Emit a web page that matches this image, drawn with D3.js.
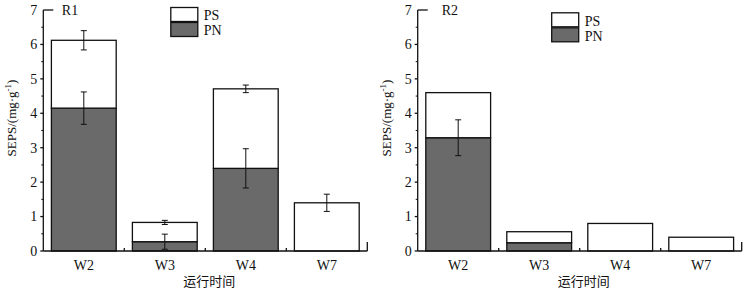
<!DOCTYPE html>
<html>
<head>
<meta charset="utf-8">
<script src="https://cdn.jsdelivr.net/npm/d3@7"></script>
<style>
  body { margin: 0; background: #fff; }
  svg { display: block; }
  text { font-family: "Liberation Serif", "DejaVu Serif", serif; fill: #111; }
  .cjk { font-family: "Noto Sans CJK SC", sans-serif; }
</style>
</head>
<body>
<svg id="chart" width="750" height="289"></svg>
<script>
// stacked bars: PN (grey, bottom) + PS (white, top), two reactors

const categories = ['W2', 'W3', 'W4', 'W7'];
const yTicks = [0, 1, 2, 3, 4, 5, 6, 7];

const r1PN      = [4.15, 0.27, 2.40, 0];
const r1PS      = [1.97, 0.56, 2.31, 1.40];
const r1PNErr   = [0.47, 0.22, 0.57, 0];
const r1TotErr  = [0.28, 0.06, 0.11, 0.25];

const r2PN      = [3.29, 0.24, 0, 0];
const r2PS      = [1.31, 0.32, 0.80, 0.40];
const r2PNErr   = [0.52, 0, 0, 0];
const r2TotErr  = [0, 0, 0, 0];

const GREY = '#6a6a6a';
const svg = d3.select('#chart');

const panels = [
    { name: 'R1', x0: 43.3, pn: r1PN, ps: r1PS, pnErr: r1PNErr, totErr: r1TotErr,
      labelDx: 18.5, legX: 127.5, legY: 7.5 },
    { name: 'R2', x0: 417.7, pn: r2PN, ps: r2PS, pnErr: r2PNErr, totErr: r2TotErr,
      labelDx: 24, legX: 134, legY: 12.8 },
];

const W = 324, TOP = 10, BOT = 251;

panels.forEach(p => {
    const g = svg.append('g').attr('transform', `translate(${p.x0},0)`);

    const x = d3.scaleBand().domain(categories).range([0, W])
        .paddingInner(0.2).paddingOuter(0.1);
    const y = d3.scaleLinear().domain([0, 7]).range([BOT, TOP]);

    const rows = categories.map((c, i) => ({ cat: c, PN: p.pn[i], PS: p.ps[i] }));
    const stack = d3.stack().keys(['PN', 'PS'])(rows);

    // ── Bars ────────────────────────────────────────────────────────────────
    stack.forEach(layer => {
        g.selectAll(null)
            .data(layer.filter(d => d[1] - d[0] > 0))
            .join('rect')
            .attr('x', d => x(d.data.cat))
            .attr('width', x.bandwidth())
            .attr('y', d => y(d[1]))
            .attr('height', d => y(d[0]) - y(d[1]))
            .attr('fill', layer.key === 'PN' ? GREY : '#fff')
            .attr('stroke', '#111')
            .attr('stroke-width', 1.3);
    });

    // ── Error bars ──────────────────────────────────────────────────────────
    const errs = [];
    categories.forEach((c, i) => {
        if (p.pnErr[i] > 0) errs.push({ cat: c, v: p.pn[i], e: p.pnErr[i] });
        if (p.totErr[i] > 0) errs.push({ cat: c, v: p.pn[i] + p.ps[i], e: p.totErr[i] });
    });
    const eg = g.selectAll(null).data(errs).join('g')
        .attr('stroke', '#111').attr('stroke-width', 1);
    eg.append('line')
        .attr('x1', d => x(d.cat) + x.bandwidth() / 2).attr('x2', d => x(d.cat) + x.bandwidth() / 2)
        .attr('y1', d => y(d.v + d.e)).attr('y2', d => y(d.v - d.e));
    [1, -1].forEach(s => {
        eg.append('line')
            .attr('x1', d => x(d.cat) + x.bandwidth() / 2 - 3)
            .attr('x2', d => x(d.cat) + x.bandwidth() / 2 + 3)
            .attr('y1', d => y(d.v + s * d.e)).attr('y2', d => y(d.v + s * d.e));
    });

    // ── Y axis ──────────────────────────────────────────────────────────────
    const ax = g.append('g').attr('stroke', '#111').attr('stroke-width', 1.3);
    ax.append('line').attr('x1', 0).attr('x2', 0).attr('y1', y(7)).attr('y2', y(0));
    ax.append('line').attr('x1', 0).attr('x2', 10).attr('y1', y(7)).attr('y2', y(7));
    ax.selectAll(null).data(yTicks.slice(0, -1)).join('line')
        .attr('x1', -3).attr('x2', 0).attr('y1', d => y(d)).attr('y2', d => y(d));
    ax.selectAll(null).data(d3.range(0.5, 7, 1)).join('line')
        .attr('x1', -2).attr('x2', 0).attr('y1', d => y(d)).attr('y2', d => y(d))
        .attr('stroke-width', 1);
    g.selectAll(null).data(yTicks).join('text')
        .attr('x', -6).attr('y', d => y(d)).attr('dy', '0.35em')
        .attr('text-anchor', 'end').attr('font-size', 14).text(d => d);

    // ── X axis ──────────────────────────────────────────────────────────────
    ax.append('line').attr('x1', 0).attr('x2', W).attr('y1', y(0)).attr('y2', y(0));
    ax.append('line').attr('x1', W).attr('x2', W).attr('y1', y(0)).attr('y2', y(0) - 9);
    ax.selectAll(null).data(categories.slice(1)).join('line')
        .attr('x1', d => x(d) - x.step() * 0.1).attr('x2', d => x(d) - x.step() * 0.1)
        .attr('y1', y(0)).attr('y2', y(0) - 3);
    g.selectAll(null).data(categories).join('text')
        .attr('x', d => x(d) + x.bandwidth() / 2).attr('y', 265).attr('dy', '0.35em')
        .attr('text-anchor', 'middle').attr('font-size', 14).text(d => d);
    g.append('text').attr('class', 'cjk')
        .attr('x', W / 2 + 4).attr('y', 281).attr('dy', '0.35em')
        .attr('text-anchor', 'middle').attr('font-size', 13).text('运行时间');

    // y title
    const yt = g.append('text')
        .attr('transform', `translate(-27,118) rotate(-90)`)
        .attr('text-anchor', 'middle').attr('font-size', 13);
    yt.append('tspan').text('SEPS/(mg·g');
    yt.append('tspan').attr('font-size', 9).attr('dy', -5).text('-1');
    yt.append('tspan').attr('dy', 5).text(')');

    // panel label
    g.append('text').attr('x', p.labelDx).attr('y', 10).attr('dy', '0.35em')
        .attr('font-size', 14).text(p.name);

    // ── Legend ──────────────────────────────────────────────────────────────
    const lg = g.append('g').attr('transform', `translate(${p.legX},${p.legY})`);
    [['PS', '#fff'], ['PN', GREY]].forEach(([k, c], i) => {
        lg.append('rect').attr('x', 0).attr('y', i * 15).attr('width', 27).attr('height', 14)
            .attr('fill', c).attr('stroke', '#111').attr('stroke-width', 1.3);
        lg.append('text').attr('x', 33).attr('y', i * 15 + 8).attr('dy', '0.35em')
            .attr('font-size', 14).text(k);
    });
});
</script>
</body>
</html>
